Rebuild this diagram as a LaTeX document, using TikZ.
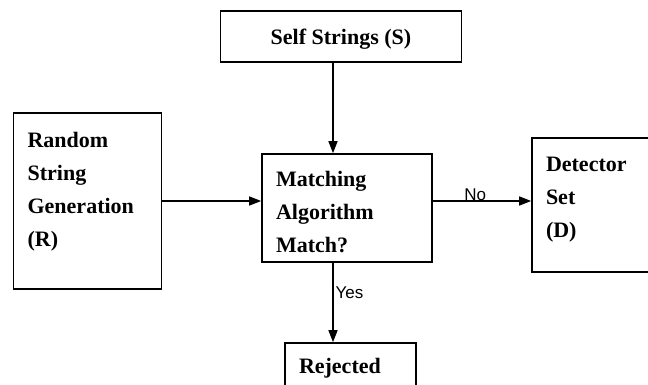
\documentclass[tikz,border=0pt]{standalone}
\usepackage{fontspec}
\setmainfont{Liberation Serif}
\setsansfont{Liberation Sans}
\usepackage{tikz}
\usetikzlibrary{positioning,arrows.meta,calc}

\begin{document}
\begin{tikzpicture}[
  x=1pt, y=-1pt,
  every node/.style={font=\bfseries\fontsize{22}{33}\selectfont},
  procbox/.style={draw=black, line width=1.6pt, fill=white, align=left, inner xsep=14pt, inner ysep=0pt},
  titlebox/.style={draw=black, line width=1.6pt, fill=white, align=center, minimum width=241pt, minimum height=51pt},
  edgelabel/.style={font=\sffamily\fontsize{17}{20}\selectfont, inner sep=2pt},
  arrow/.style={-{Triangle[length=12pt, width=9pt]}, line width=1.4pt, black}
]
\clip (0,0) rectangle (648,385);
\useasboundingbox (0,0) rectangle (648,385);

% Self strings on top
\node[titlebox] (self) at (341,36.5) {\mbox{}\\[-12pt]Self Strings (S)};

% Random string generation
\node[procbox, text width=120pt, minimum height=176pt] (rand) at (87.6,201) {Random\\String\\Generation\\(R)\\[-10pt]\mbox{}};

% Matching algorithm
\node[procbox, text width=142pt, minimum height=108pt] (match) at (347,208) {\mbox{}\\[-10pt]Matching\\Algorithm\\Match?};

% Detector set (cut at right edge)
\node[procbox, text width=102pt, minimum height=134pt] (det) at (597,205) {Detector\\Set\\(D)\\[-18pt]\mbox{}};

% Rejected (cut at bottom edge)
\node[procbox, text width=103pt, minimum height=50pt] (rej) at (350.5,368) {Rejected};

% Connectors
\coordinate (axis) at (333,0);
\draw[arrow] (axis |- self.south) -- (axis |- match.north);
\draw[arrow] (rand.east) -- (rand.east -| match.west);
\draw[arrow] (rand.east -| match.east) -- (rand.east -| det.west) node[pos=0.43, above, edgelabel, inner sep=0pt] {No};
\draw[arrow] (axis |- match.south) -- (axis |- rej.north) node[pos=0.38, right, edgelabel] {Yes};
\end{tikzpicture}
\end{document}
